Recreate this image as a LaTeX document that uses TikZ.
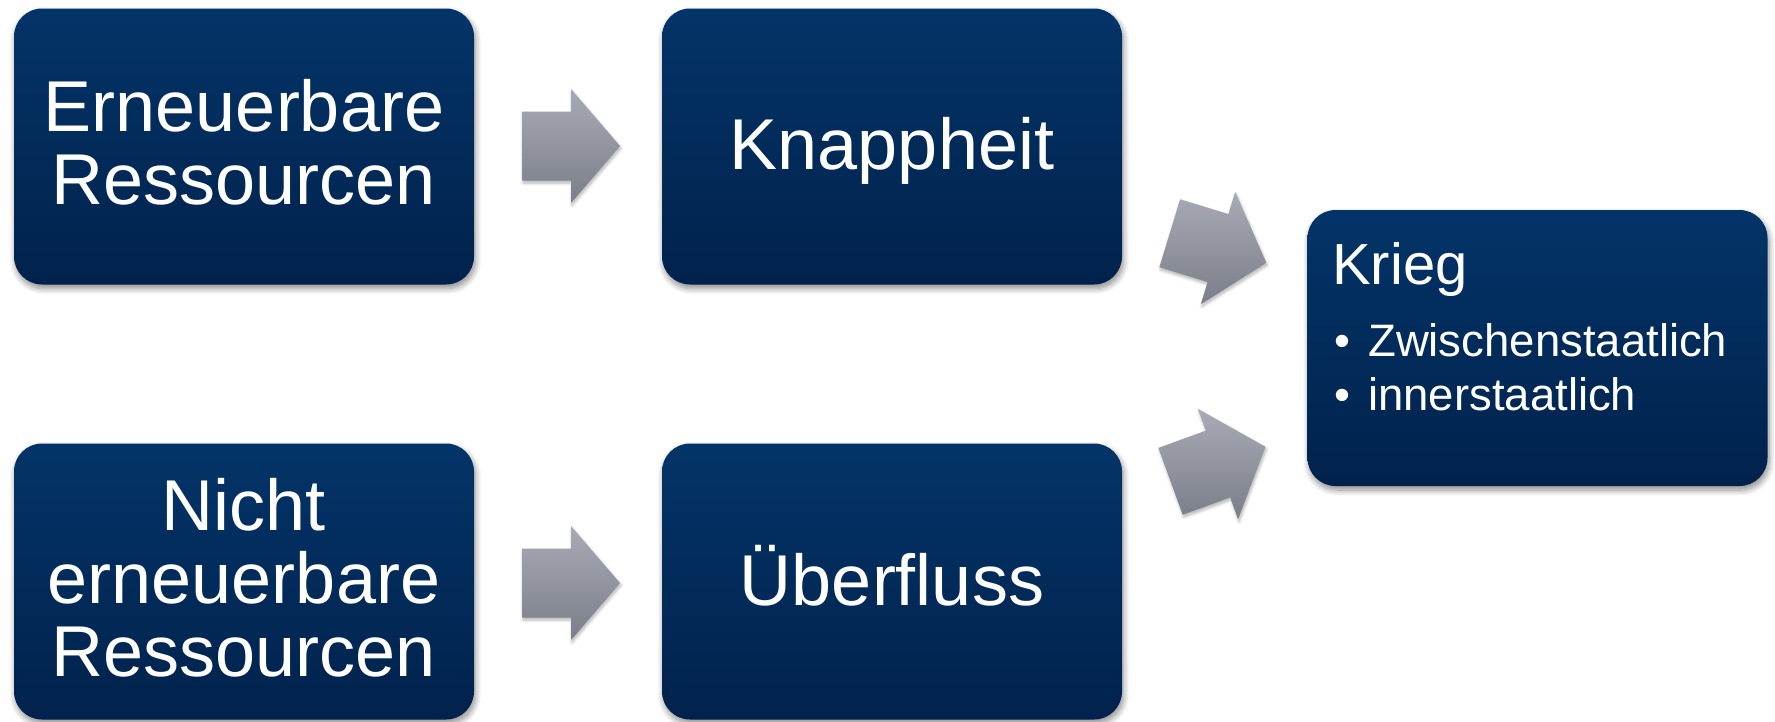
\documentclass[tikz,border=0pt]{standalone}
\usepackage{fontspec}
\setmainfont{Liberation Sans}
\usetikzlibrary{shadows.blur}
\definecolor{boxtop}{RGB}{3,52,104}
\definecolor{boxbot}{RGB}{1,34,76}
\definecolor{arrtop}{RGB}{168,171,182}
\definecolor{arrbot}{RGB}{122,126,137}
\tikzset{
  softshadow/.style={blur shadow={shadow xshift=1.5pt, shadow yshift=-4pt, shadow blur radius=6pt, shadow blur steps=8, shadow opacity=45}},
  box/.style={draw=none, rounded corners=28pt, minimum width=460pt, minimum height=276pt,
    inner sep=0pt, top color=boxtop, bottom color=boxbot, softshadow},
  bigtxt/.style={text=white, align=center, inner sep=0pt, font=\fontsize{72}{73}\selectfont},
  midtxt/.style={text=white, inner sep=0pt, font=\fontsize{58}{60}\selectfont},
  smalltxt/.style={text=white, inner sep=0pt, font=\fontsize{45.5}{54}\selectfont},
  arrfill/.style={top color=arrtop, bottom color=arrbot, draw=none,
    blur shadow={shadow xshift=1pt, shadow yshift=-2.5pt, shadow blur radius=3pt, shadow blur steps=5, shadow opacity=30}},
  blockarrow/.pic={\path[arrfill] (-49,-34.5) -- (0,-34.5) -- (0,-57) -- (49,0) -- (0,57) -- (0,34.5) -- (-49,34.5) -- cycle;}
}
\begin{document}
\begin{tikzpicture}[x=1pt,y=-1pt]
\useasboundingbox (0,0) rectangle (1775,721);
% boxes
\node[box] (A) at (244,146.5) {};
\node[box] (B) at (892,146.5) {};
\node[box] (C) at (244,581.5) {};
\node[box] (D) at (892,581.5) {};
\node[box] (E) at (1537.5,348) {};
% texts
\node[bigtxt] (tA) at (244,142.5) {Erneuerbare\\Ressourcen};
\node[bigtxt, anchor=base] (tB) at (892,169) {Knappheit};
\node[bigtxt] (tC) at (244,578) {Nicht\\erneuerbare\\Ressourcen};
\node[bigtxt, anchor=base] (tD) at (892,605) {Überfluss};
\node[midtxt, anchor=base west] (tE) at (1332,284) {Krieg};
\node[smalltxt, anchor=base west] (b1) at (1334,356) {•};
\node[smalltxt, anchor=base west] (e1) at (1368,356) {Zwischenstaatlich};
\node[smalltxt, anchor=base west] (b2) at (1334,410) {•};
\node[smalltxt, anchor=base west] (e2) at (1368,410) {innerstaatlich};
% arrows
\pic (ar1) at (571,146) {blockarrow};
\pic (ar2) at (571,583) {blockarrow};
\pic[rotate=-17, scale=1.03] (ar3) at (1218,248) {blockarrow};
\pic[rotate=20, scale=1.03] (ar4) at (1218,464) {blockarrow};
\end{tikzpicture}
\end{document}
